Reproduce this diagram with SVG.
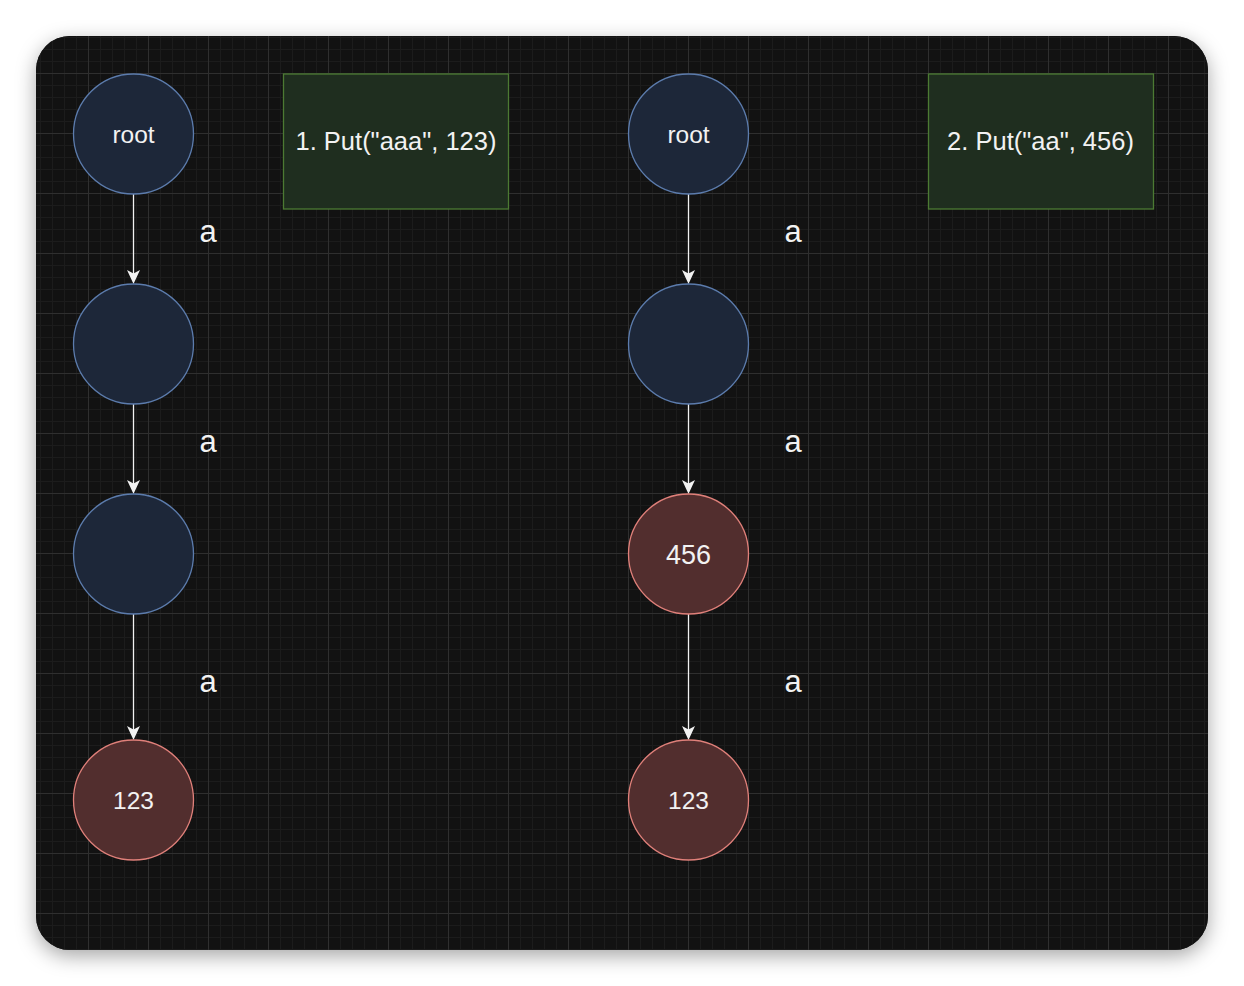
<svg xmlns="http://www.w3.org/2000/svg" width="1244" height="986" viewBox="0 0 1244 986">
<style>
.blue{fill:#1d2739;stroke:#5c7cad;stroke-width:1.3}
.red{fill:#522e2e;stroke:#e0807a;stroke-width:1.3}
.box{fill:#1f2e1f;stroke:#4c7a33;stroke-width:1.3}
.t{font-family:"Liberation Sans",Arial,sans-serif;fill:#f2f2f2;text-anchor:middle}
.edge{stroke:#f2f2f2;stroke-width:1.3;fill:none}
.head{fill:#f2f2f2;stroke:none}
</style>
<defs>
<pattern id="grid" patternUnits="userSpaceOnUse" x="28" y="13" width="60" height="60">
<rect width="60" height="60" fill="#121212"/>
<path d="M12.5 0V60M24.5 0V60M36.5 0V60M48.5 0V60M0 12.5H60M0 24.5H60M0 36.5H60M0 48.5H60" stroke="#1c1c1c" stroke-width="1"/>
<path d="M0.5 0V60M0 0.5H60" stroke="#2f2f2f" stroke-width="1"/>
</pattern>
<filter id="sh" x="-10%" y="-10%" width="120%" height="125%">
<feDropShadow dx="0" dy="6" stdDeviation="10" flood-color="#000" flood-opacity="0.35"/>
</filter>
</defs>
<rect width="1244" height="986" fill="#ffffff"/>
<rect x="36" y="36" width="1172" height="914" rx="34" fill="#121212" filter="url(#sh)"/>
<rect x="36" y="36" width="1172" height="914" rx="34" fill="url(#grid)"/>

<g id="connectors">
<path class="edge" d="M133.5 194V276"/>
<path class="head" d="M133.5 284L127 270L133.5 273.5L140 270Z"/>
<path class="edge" d="M133.5 404V486"/>
<path class="head" d="M133.5 494L127 480L133.5 483.5L140 480Z"/>
<path class="edge" d="M133.5 614V732"/>
<path class="head" d="M133.5 740L127 726L133.5 729.5L140 726Z"/>
<path class="edge" d="M688.5 194V276"/>
<path class="head" d="M688.5 284L682 270L688.5 273.5L695 270Z"/>
<path class="edge" d="M688.5 404V486"/>
<path class="head" d="M688.5 494L682 480L688.5 483.5L695 480Z"/>
<path class="edge" d="M688.5 614V732"/>
<path class="head" d="M688.5 740L682 726L688.5 729.5L695 726Z"/>
<text class="t" x="208" y="242" font-size="31">a</text>
<text class="t" x="208" y="452" font-size="31">a</text>
<text class="t" x="208" y="692" font-size="31">a</text>
<text class="t" x="793" y="242" font-size="31">a</text>
<text class="t" x="793" y="452" font-size="31">a</text>
<text class="t" x="793" y="692" font-size="31">a</text>
</g>

<g id="l-root"><circle class="blue" cx="133.5" cy="134" r="60"/><text class="t" x="133.5" y="143" font-size="24.5">root</text></g>
<g id="l-n1"><circle class="blue" cx="133.5" cy="344" r="60"/></g>
<g id="l-n2"><circle class="blue" cx="133.5" cy="554" r="60"/></g>
<g id="l-123"><circle class="red" cx="133.5" cy="800" r="60"/><text class="t" x="133.5" y="808.5" font-size="24.5">123</text></g>
<g id="box1"><rect class="box" x="283.5" y="74" width="225" height="135"/><text class="t" x="396" y="150" font-size="25.5">1. Put("aaa", 123)</text></g>

<g id="r-root"><circle class="blue" cx="688.5" cy="134" r="60"/><text class="t" x="688.5" y="143" font-size="24.5">root</text></g>
<g id="r-n1"><circle class="blue" cx="688.5" cy="344" r="60"/></g>
<g id="r-456"><circle class="red" cx="688.5" cy="554" r="60"/><text class="t" x="688.5" y="563.5" font-size="27">456</text></g>
<g id="r-123"><circle class="red" cx="688.5" cy="800" r="60"/><text class="t" x="688.5" y="808.5" font-size="24.5">123</text></g>
<g id="box2"><rect class="box" x="928.5" y="74" width="225" height="135"/><text class="t" x="1040.5" y="150" font-size="25.5">2. Put("aa", 456)</text></g>
</svg>
